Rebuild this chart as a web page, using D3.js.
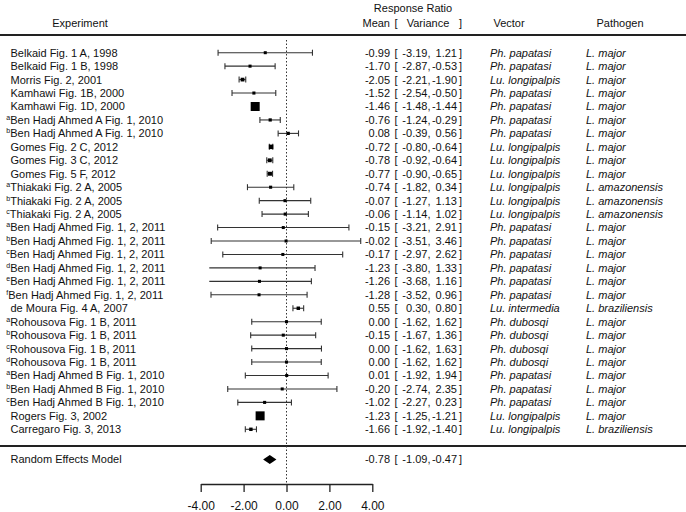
<!DOCTYPE html>
<html><head><meta charset="utf-8">
<script src="https://cdn.jsdelivr.net/npm/d3@7"></script>
<style>
body{margin:0;background:#fff}
text{font-family:"Liberation Sans",Arial,Helvetica,sans-serif;fill:#111}
</style>
</head><body>
<svg id="c" width="686" height="512"></svg>
<script>
// ---------- data ----------
const experiments = [
  "Belkaid Fig. 1 A, 1998","Belkaid Fig. 1 B, 1998","Morris Fig. 2, 2001","Kamhawi Fig. 1B, 2000","Kamhawi Fig. 1D, 2000",
  "Ben Hadj Ahmed A Fig. 1, 2010","Ben Hadj Ahmed A Fig. 1, 2010","Gomes Fig. 2 C, 2012","Gomes Fig. 3 C, 2012","Gomes Fig. 5 F, 2012",
  "Thiakaki Fig. 2 A, 2005","Thiakaki Fig. 2 A, 2005","Thiakaki Fig. 2 A, 2005",
  "Ben Hadj Ahmed Fig. 1, 2, 2011","Ben Hadj Ahmed Fig. 1, 2, 2011","Ben Hadj Ahmed Fig. 1, 2, 2011","Ben Hadj Ahmed Fig. 1, 2, 2011","Ben Hadj Ahmed Fig. 1, 2, 2011","Ben Hadj Ahmed Fig. 1, 2, 2011",
  "de Moura Fig. 4 A, 2007",
  "Rohousova Fig. 1 B, 2011","Rohousova Fig. 1 B, 2011","Rohousova Fig. 1 B, 2011","Rohousova Fig. 1 B, 2011",
  "Ben Hadj Ahmed B Fig. 1, 2010","Ben Hadj Ahmed B Fig. 1, 2010","Ben Hadj Ahmed B Fig. 1, 2010",
  "Rogers Fig. 3, 2002","Carregaro Fig. 3, 2013"
];
const superscripts = ["","","","","","a","b","","","","a","b","c","a","b","c","d","e","f","","a","b","c","d","a","b","c","",""];
const means  = [-0.99,-1.70,-2.05,-1.52,-1.46,-0.76, 0.08,-0.72,-0.78,-0.77,-0.74,-0.07,-0.06,-0.15,-0.02,-0.17,-1.23,-1.26,-1.28, 0.55, 0.00,-0.15, 0.00, 0.00, 0.01,-0.20,-1.02,-1.23,-1.66];
const lowers = [-3.19,-2.87,-2.21,-2.54,-1.48,-1.24,-0.39,-0.80,-0.92,-0.90,-1.82,-1.27,-1.14,-3.21,-3.51,-2.97,-3.80,-3.68,-3.52, 0.30,-1.62,-1.67,-1.62,-1.62,-1.92,-2.74,-2.27,-1.25,-1.92];
const uppers = [ 1.21,-0.53,-1.90,-0.50,-1.44,-0.29, 0.56,-0.64,-0.64,-0.65, 0.34, 1.13, 1.02, 2.91, 3.46, 2.62, 1.33, 1.16, 0.96, 0.80, 1.62, 1.36, 1.63, 1.62, 1.94, 2.35, 0.23,-1.21,-1.40];
const vectors = ["Ph. papatasi","Ph. papatasi","Lu. longipalpis","Ph. papatasi","Ph. papatasi","Ph. papatasi","Ph. papatasi",
  "Lu. longipalpis","Lu. longipalpis","Lu. longipalpis","Lu. longipalpis","Lu. longipalpis","Lu. longipalpis",
  "Ph. papatasi","Ph. papatasi","Ph. papatasi","Ph. papatasi","Ph. papatasi","Ph. papatasi","Lu. intermedia",
  "Ph. dubosqi","Ph. dubosqi","Ph. dubosqi","Ph. dubosqi","Ph. papatasi","Ph. papatasi","Ph. papatasi","Lu. longipalpis","Lu. longipalpis"];
const pathogens = ["L. major","L. major","L. major","L. major","L. major","L. major","L. major","L. major","L. major","L. major",
  "L. amazonensis","L. amazonensis","L. amazonensis","L. major","L. major","L. major","L. major","L. major","L. major","L. braziliensis",
  "L. major","L. major","L. major","L. major","L. major","L. major","L. major","L. major","L. braziliensis"];
const summaryLabel = "Random Effects Model";
const summary = [-0.78, -1.09, -0.47]; // mean, lower, upper
const xTicks = [-4, -2, 0, 2, 4];

// ---------- layout ----------
const svg = d3.select("#c");
const W = 686;
const x = d3.scaleLinear().domain([-4, 4]).range([200.7, 372.3]);
const y = d3.scalePoint().domain(d3.range(experiments.length)).range([52.7, 429.3]);
const ySum = 459.5, yAxis = 484, clipLo = -3.6;
const fs = 11, ink = "#222";
const fmt = v => v.toFixed(2);

// headers
svg.append("text").attr("x", 413).attr("y", 12).attr("text-anchor", "middle").attr("font-size", fs).text("Response Ratio");
svg.append("text").attr("x", 80).attr("y", 27).attr("text-anchor", "middle").attr("font-size", fs).text("Experiment");
svg.append("text").attr("x", 390).attr("y", 27).attr("text-anchor", "end").attr("font-size", fs).text("Mean");
svg.append("text").attr("x", 394.5).attr("y", 27).attr("font-size", fs).text("[");
svg.append("text").attr("x", 428).attr("y", 27).attr("text-anchor", "middle").attr("font-size", fs).text("Variance");
svg.append("text").attr("x", 459).attr("y", 27).attr("font-size", fs).text("]");
svg.append("text").attr("x", 509).attr("y", 27).attr("text-anchor", "middle").attr("font-size", fs).text("Vector");
svg.append("text").attr("x", 620).attr("y", 27).attr("text-anchor", "middle").attr("font-size", fs).text("Pathogen");

// separator lines
svg.append("line").attr("x1", 0).attr("x2", W).attr("y1", 35).attr("y2", 35).attr("stroke", ink).attr("stroke-width", 2);
svg.append("line").attr("x1", 0).attr("x2", W).attr("y1", 446).attr("y2", 446).attr("stroke", ink).attr("stroke-width", 2);

// reference line
svg.append("line").attr("x1", x(0)).attr("x2", x(0)).attr("y1", 40).attr("y2", yAxis)
  .attr("stroke", "#333").attr("stroke-width", 1).attr("stroke-dasharray", "1.5,2");

// sizes from precision (1/se), metafor style
const wi = lowers.map((l, i) => 3.92 / (uppers[i] - l));
const wMin = d3.min(wi), wMax = d3.max(wi);
const psize = wi.map(w => (w - wMin) / (wMax - wMin) + 0.5);

const rows = svg.append("g");
experiments.forEach((name, i) => {
  const cy = y(i);
  const t = rows.append("text").attr("font-size", fs).attr("y", cy + 3.9);
  if (superscripts[i]) {
    t.attr("x", 6.3);
    t.append("tspan").attr("font-size", 7).attr("dy", -4).text(superscripts[i]);
    t.append("tspan").attr("dy", 4).text(name);
  } else {
    t.attr("x", 10.5).text(name);
  }
  const lo = Math.max(lowers[i], clipLo);
  rows.append("line").attr("x1", x(lo)).attr("x2", x(uppers[i])).attr("y1", cy).attr("y2", cy)
    .attr("stroke", "#333").attr("stroke-width", 1.1);
  const caps = lowers[i] >= clipLo ? [lowers[i], uppers[i]] : [uppers[i]];
  caps.forEach(v => rows.append("line").attr("x1", x(v)).attr("x2", x(v)).attr("y1", cy - 3).attr("y2", cy + 3)
    .attr("stroke", "#333").attr("stroke-width", 1.1));
  const s = psize[i] * 6;
  rows.append("rect").attr("x", x(means[i]) - s / 2).attr("y", cy - s / 2).attr("width", s).attr("height", s).attr("fill", "#000");
  drawValues(cy, means[i], lowers[i], uppers[i]);
  rows.append("text").attr("x", 490).attr("y", cy + 3.9).attr("font-size", fs).attr("font-style", "italic").text(vectors[i]);
  rows.append("text").attr("x", 586).attr("y", cy + 3.9).attr("font-size", fs).attr("font-style", "italic").text(pathogens[i]);
});

function drawValues(cy, m, l, u) {
  const g = svg.append("g").attr("font-size", fs);
  const b = cy + 3.9;
  g.append("text").attr("x", 390).attr("y", b).attr("text-anchor", "end").text(fmt(m));
  g.append("text").attr("x", 394.5).attr("y", b).text("[");
  g.append("text").attr("x", 430.5).attr("y", b).attr("text-anchor", "end").text(fmt(l) + ",");
  g.append("text").attr("x", 457).attr("y", b).attr("text-anchor", "end").text(fmt(u));
  g.append("text").attr("x", 459).attr("y", b).text("]");
}

// summary
svg.append("text").attr("x", 10.5).attr("y", ySum + 3.9).attr("font-size", fs).text(summaryLabel);
svg.append("path")
  .attr("d", `M${x(summary[1])},${ySum} L${x(summary[0])},${ySum - 4.5} L${x(summary[2])},${ySum} L${x(summary[0])},${ySum + 4.5} Z`)
  .attr("fill", "#000");
drawValues(ySum, summary[0], summary[1], summary[2]);

// axis
const ax = svg.append("g").attr("transform", `translate(0,${yAxis})`)
  .call(d3.axisBottom(x).tickValues(xTicks).tickFormat(fmt).tickSize(8).tickPadding(9).tickSizeOuter(0));
ax.select(".domain").attr("stroke", ink).attr("stroke-width", 1.3);
ax.selectAll(".tick line").attr("stroke", ink).attr("stroke-width", 1.3);
ax.selectAll(".tick text").attr("font-size", 12).attr("font-family", "Liberation Sans, Arial, sans-serif").attr("fill", "#111");
</script>
</body></html>
